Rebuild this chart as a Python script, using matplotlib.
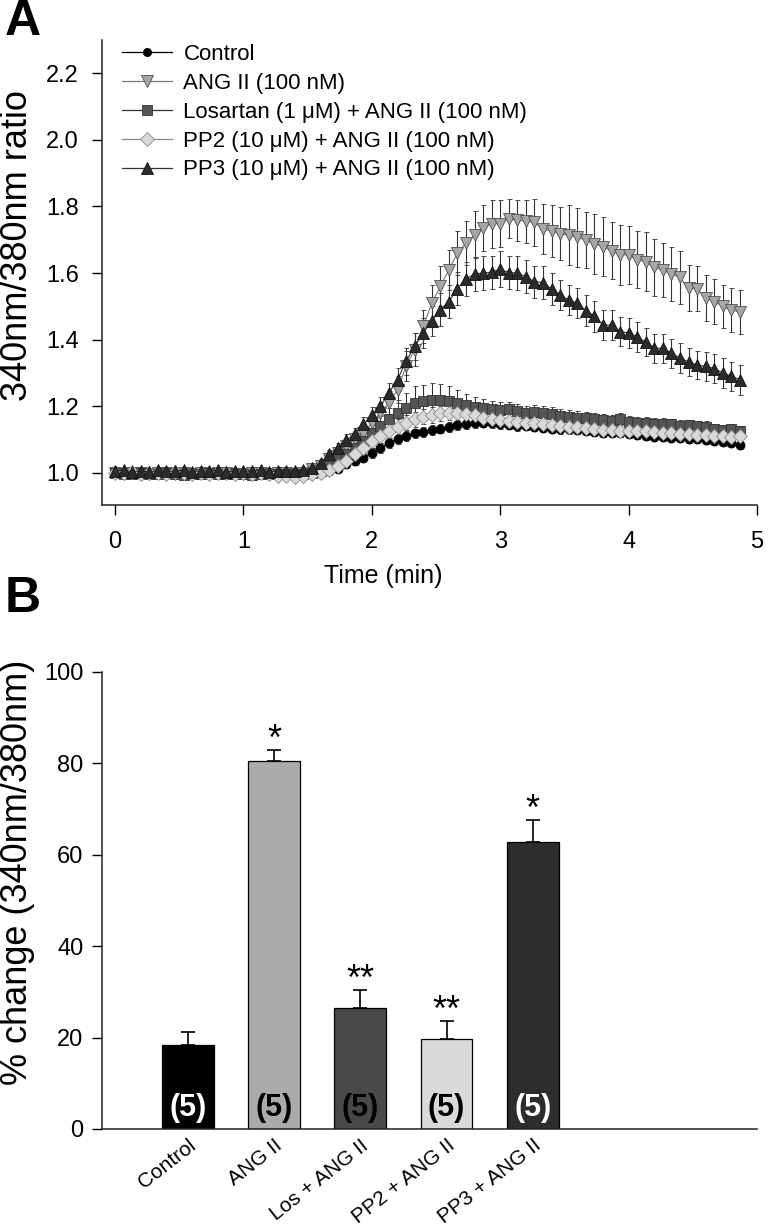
import numpy as np
import matplotlib
matplotlib.use("Agg")
import matplotlib.pyplot as plt
from matplotlib.lines import Line2D
from matplotlib.transforms import ScaledTranslation

plt.rcParams['font.family'] = ['Liberation Sans', 'DejaVu Sans']

# ---------------- panel A : 340/380 ratio, one sample every 4 s ----------------
dt_min = 4 / 60

control = [1.005, 1.0, 1.002, 0.998, 1.0, 1.003, 0.999, 1.0, 1.001, 0.998,
           1.0, 1.002, 0.999, 1.0, 1.001, 0.998, 1.0, 1.0, 0.999, 1.001,
           0.998, 0.999, 1.0, 1.0,
           1.0, 1.005, 1.012, 1.025, 1.035, 1.045, 1.06, 1.075, 1.09, 1.10,
           1.11, 1.118, 1.122, 1.128, 1.132, 1.138, 1.143, 1.145, 1.148, 1.15,
           1.148, 1.145, 1.143, 1.14, 1.14, 1.137, 1.134, 1.132, 1.13, 1.13,
           1.128, 1.125, 1.123, 1.12, 1.12, 1.118, 1.115, 1.113, 1.11, 1.108,
           1.106, 1.105, 1.105, 1.10, 1.10, 1.098, 1.095, 1.093, 1.09, 1.082]
control_err = [0.005] * 24 + \
    [0.006, 0.008, 0.01, 0.012, 0.013, 0.014, 0.015, 0.015, 0.015, 0.015,
     0.015, 0.014, 0.015, 0.014, 0.014, 0.015, 0.014, 0.014, 0.014, 0.013,
     0.014, 0.013, 0.013, 0.014, 0.013, 0.013, 0.012, 0.013, 0.013, 0.012,
     0.013, 0.012, 0.012, 0.013, 0.012, 0.012, 0.012, 0.013, 0.012, 0.012,
     0.012, 0.011, 0.012, 0.012, 0.011, 0.012, 0.011, 0.012, 0.011, 0.012]

ang2 = [1.0, 0.995, 0.998, 1.0, 0.996, 0.999, 1.0, 0.995, 0.998, 0.997,
        1.0, 0.996, 0.998, 1.0, 0.995, 0.997, 0.999, 1.0, 0.996, 0.998,
        1.0, 0.997, 0.999,
        1.01, 1.02, 1.04, 1.06, 1.08, 1.10, 1.12, 1.15, 1.18, 1.21,
        1.25, 1.32, 1.37, 1.44, 1.51, 1.56, 1.61, 1.66, 1.69, 1.715,
        1.735, 1.748, 1.748, 1.763, 1.758, 1.755, 1.752, 1.731, 1.727, 1.718,
        1.714, 1.707, 1.699, 1.687, 1.679, 1.667, 1.655, 1.654, 1.64, 1.634,
        1.617, 1.609, 1.597, 1.587, 1.555, 1.553, 1.525, 1.514, 1.50, 1.489,
        1.483]
ang2_err = [0.006] * 23 + \
    [0.01, 0.012, 0.015, 0.018, 0.02, 0.022, 0.025, 0.028,
     0.03, 0.035, 0.04, 0.045, 0.05, 0.05, 0.055, 0.06, 0.06, 0.065,
     0.065, 0.07, 0.07, 0.072, 0.07, 0.058, 0.062, 0.065, 0.07, 0.075,
     0.078, 0.08, 0.09, 0.088, 0.085, 0.09, 0.088, 0.085, 0.09, 0.087,
     0.085, 0.088, 0.085, 0.08, 0.082, 0.08,
     0.07, 0.068, 0.07, 0.068, 0.065, 0.065, 0.066]

losartan = [0.998, 0.995, 0.997, 0.999, 0.996, 0.995, 0.998, 0.996, 0.994, 0.997,
            0.995, 0.998, 0.996, 0.995, 0.997, 0.996, 0.994, 0.997, 0.995, 0.996,
            0.997, 0.995, 0.996,
            1.0, 1.005, 1.02, 1.04, 1.055, 1.075, 1.095, 1.12, 1.14, 1.16,
            1.178, 1.195, 1.21, 1.215, 1.22, 1.22, 1.215, 1.21, 1.203, 1.198,
            1.195, 1.19, 1.188, 1.19, 1.185, 1.18, 1.183, 1.18, 1.177, 1.17,
            1.168, 1.165, 1.163, 1.16, 1.158, 1.155, 1.16, 1.152, 1.15, 1.148,
            1.147, 1.146, 1.145, 1.14, 1.142, 1.14, 1.138, 1.132, 1.128, 1.13,
            1.125]
losartan_err = [0.006] * 23 + \
    [0.006, 0.008, 0.01, 0.012, 0.015, 0.018, 0.02, 0.025,
     0.03, 0.035, 0.04, 0.045, 0.05, 0.05, 0.05, 0.048, 0.045, 0.04,
     0.035, 0.03, 0.028, 0.025, 0.025, 0.024, 0.022, 0.022, 0.022, 0.02,
     0.02, 0.02, 0.02, 0.019, 0.02, 0.018, 0.019, 0.018, 0.018, 0.018,
     0.017, 0.018, 0.017, 0.017, 0.016, 0.017, 0.016, 0.016, 0.016, 0.015,
     0.016, 0.015, 0.015]

pp2 = [1.0, 0.998, 1.002, 0.997, 1.0, 0.999, 0.996, 1.001, 0.998, 0.997,
       1.0, 0.996, 0.999, 0.998, 0.997, 1.0, 0.996, 0.998,
       0.995, 0.99, 0.99, 0.988, 0.99, 0.995,
       1.0, 1.008, 1.02, 1.035, 1.055, 1.075, 1.095, 1.11, 1.125, 1.138,
       1.15, 1.16, 1.168, 1.172, 1.178, 1.18, 1.178, 1.175, 1.172, 1.165,
       1.16, 1.158, 1.155, 1.152, 1.15, 1.148, 1.145, 1.143, 1.14, 1.138,
       1.136, 1.134, 1.13, 1.128, 1.128, 1.126, 1.126, 1.124, 1.125, 1.122,
       1.12, 1.118, 1.117, 1.116, 1.113, 1.113, 1.11, 1.11, 1.108, 1.11]
pp2_err = [0.005] * 24 + \
    [0.008, 0.01, 0.012, 0.015, 0.018, 0.02, 0.02,
     0.022, 0.022, 0.024, 0.022, 0.023, 0.022, 0.024, 0.022, 0.023, 0.022,
     0.022, 0.021, 0.022, 0.02, 0.021, 0.022, 0.02, 0.021, 0.02, 0.021,
     0.02, 0.02, 0.021, 0.02, 0.019, 0.02, 0.02, 0.019, 0.02, 0.019,
     0.019, 0.02, 0.019, 0.018, 0.019, 0.018, 0.019, 0.018, 0.018, 0.019,
     0.018, 0.018, 0.019]

pp3 = [1.005, 1.008, 1.003, 1.006, 1.002, 1.007, 1.004, 1.005, 1.008, 1.003,
       1.006, 1.004, 1.007, 1.003, 1.005, 1.006, 1.004, 1.008, 1.003, 1.005,
       1.006, 1.004, 1.007,
       1.015, 1.03, 1.055, 1.075, 1.098, 1.115, 1.145, 1.173, 1.20, 1.24,
       1.28, 1.335, 1.38, 1.42, 1.456, 1.49, 1.514, 1.553, 1.582, 1.597,
       1.60, 1.602, 1.612, 1.601, 1.60, 1.589, 1.574, 1.571, 1.551, 1.534,
       1.519, 1.509, 1.487, 1.47, 1.444, 1.443, 1.424, 1.42, 1.408, 1.393,
       1.374, 1.374, 1.359, 1.345, 1.333, 1.323, 1.32, 1.313, 1.30, 1.29,
       1.28]
pp3_err = [0.006] * 23 + \
    [0.008, 0.01, 0.012, 0.015, 0.018, 0.02, 0.022, 0.025,
     0.028, 0.03, 0.035, 0.04, 0.04, 0.045, 0.045, 0.05, 0.05, 0.05,
     0.05, 0.052, 0.05, 0.05, 0.055, 0.05, 0.05, 0.05, 0.048, 0.05,
     0.048, 0.046, 0.045, 0.045, 0.047, 0.046, 0.045, 0.045, 0.044, 0.044,
     0.045, 0.043, 0.044, 0.043, 0.044, 0.044, 0.043, 0.042, 0.044, 0.043,
     0.044, 0.043, 0.045]

legend_labels = ['Control', 'ANG II (100 nM)', 'Losartan (1 \u03bcM) + ANG II (100 nM)',
                 'PP2 (10 \u03bcM) + ANG II (100 nM)', 'PP3 (10 \u03bcM) + ANG II (100 nM)']

# ---------------- panel B : peak % change ----------------
groups = ['Control', 'ANG II', 'Los + ANG II', 'PP2 + ANG II', 'PP3 + ANG II']
pct_change = [18.3, 80.4, 26.5, 19.6, 62.7]
pct_sem = [2.9, 2.4, 3.8, 4.0, 4.8]
n_cells = [5, 5, 5, 5, 5]
signif = ['', '*', '**', '**', '*']

fig = plt.figure(figsize=(7.69, 12.27), dpi=100)
axA = fig.add_axes([0.1330, 0.5884, 0.8514, 0.3790])
axB = fig.add_axes([0.1322, 0.0799, 0.8522, 0.3727])

# style per trace: marker, face, edge, line colour, marker size
styles = [
    ('o', 'black', 'black', 'black', 6.5),
    ('v', '#a6a6a6', '#505050', '#7a7a7a', 9),
    ('s', '#555555', '#333333', '#333333', 7.5),
    ('D', '#d9d9d9', '#8a8a8a', '#8a8a8a', 7.5),
    ('^', '#2b2b2b', '#111111', '#333333', 9),
]
traces = [(control, control_err), (ang2, ang2_err), (losartan, losartan_err),
          (pp2, pp2_err), (pp3, pp3_err)]

handles = []
for (vals, errs), (m, fc, ec, lc, ms) in zip(traces, styles):
    t = np.arange(len(vals)) * dt_min
    axA.errorbar(t, vals, yerr=errs, fmt='-', marker=m, ms=ms, mfc=fc, mec=ec,
                 mew=0.6, color=lc, lw=0.8, ecolor='#333333', elinewidth=0.8,
                 capsize=1.8, capthick=0.8)
    handles.append(Line2D([], [], color=lc, lw=0.9, marker=m, ms=ms * 0.9, mfc=fc,
                          mec=ec, mew=0.6))

axA.set_xlim(-0.1, 5.0)
axA.set_ylim(0.903, 2.30)
axA.set_xticks([0, 1, 2, 3, 4, 5])
axA.set_yticks([1.0, 1.2, 1.4, 1.6, 1.8, 2.0, 2.2])
axA.set_yticklabels(['1.0', '1.2', '1.4', '1.6', '1.8', '2.0', '2.2'])
axA.tick_params(axis='both', direction='out', length=7, width=1, labelsize=17)
axA.tick_params(axis='x', pad=12)
axA.tick_params(axis='y', pad=10)
axA.set_xlabel('Time (min)', fontsize=18)
axA.xaxis.set_label_coords(0.429, -0.126)
axA.set_ylabel('340nm/380nm ratio', fontsize=26)
axA.yaxis.label.set_va('center')
axA.yaxis.set_label_coords(-0.129, 0.559)
axA.legend(handles, legend_labels, loc='upper left', bbox_to_anchor=(0.03, 0.991),
           frameon=False, fontsize=16, handlelength=2.27, handletextpad=0.5,
           labelspacing=0.35, borderpad=0, borderaxespad=0)

# panel B bars
x = np.arange(len(groups))
bar_colors = ['#000000', '#ababab', '#484848', '#d9d9d9', '#2d2d2d']
n_colors = ['white', 'black', 'black', 'black', 'white']
axB.bar(x, pct_change, width=0.6, color=bar_colors, edgecolor='black', linewidth=0.9)
axB.errorbar(x, pct_change, yerr=[np.zeros(len(x)), pct_sem], fmt='none',
             ecolor='black', elinewidth=1.2, capsize=5, capthick=1.2)
for xi, v, e, s, n, nc in zip(x, pct_change, pct_sem, signif, n_cells, n_colors):
    if s:
        axB.text(xi, v + e, s, ha='center', va='baseline', fontsize=26)
    axB.text(xi, 4.5, '(%d)' % n, ha='center', va='center', color=nc,
             fontsize=22, fontweight='bold',
             family=['Liberation Sans Narrow', 'DejaVu Sans Condensed', 'Liberation Sans'])

axB.set_xlim(-1.0, 6.6)
axB.set_ylim(0, 100)
axB.set_yticks([0, 20, 40, 60, 80, 100])
axB.set_xticks(x)
axB.set_xticklabels(groups, rotation=38, ha='right', rotation_mode='anchor', fontsize=15)
shift = ScaledTranslation(4 / 72, 0, fig.dpi_scale_trans)
for lbl in axB.get_xticklabels():
    lbl.set_transform(lbl.get_transform() + shift)
axB.tick_params(axis='x', length=0, pad=5)
axB.tick_params(axis='y', direction='out', length=7, width=1, labelsize=17, pad=6)
axB.set_ylabel('% change (340nm/380nm)', fontsize=26)
axB.yaxis.label.set_va('center')
axB.yaxis.set_label_coords(-0.129, 0.562)

for ax in (axA, axB):
    ax.spines['top'].set_visible(False)
    ax.spines['right'].set_visible(False)
    for sp in ('left', 'bottom'):
        ax.spines[sp].set_linewidth(1.1)
        ax.spines[sp].set_color('#222222')

fig.text(0.006, 1 - 35 / 1227, 'A', fontsize=36, fontweight='bold', va='baseline')
fig.text(0.006, 1 - 612 / 1227, 'B', fontsize=36, fontweight='bold', va='baseline')

fig.savefig('out.png', dpi=100)
